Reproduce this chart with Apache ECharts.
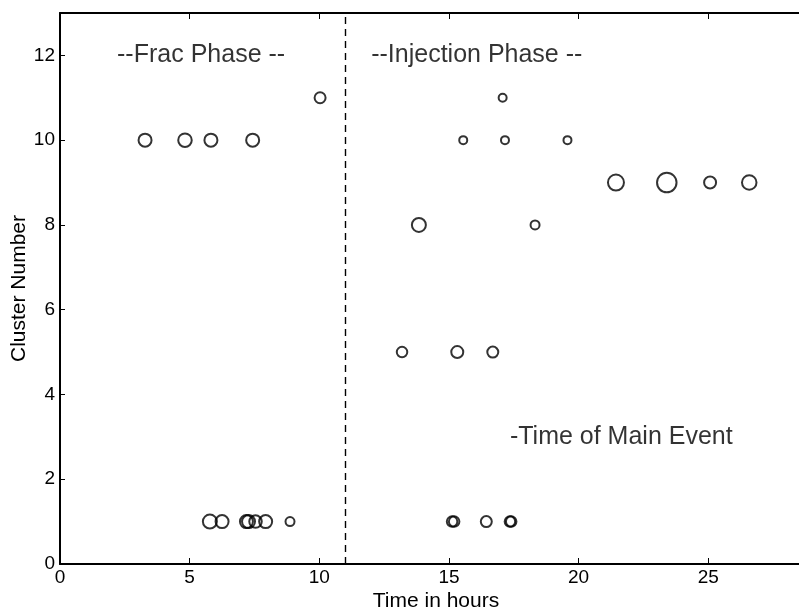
<!DOCTYPE html>
<html>
<head>
<meta charset="utf-8">
<script src="https://cdn.jsdelivr.net/npm/echarts@6/dist/echarts.min.js"></script>
<style>
html,body{margin:0;padding:0;background:#fff;}
#chart{width:799px;height:610px;}
</style>
</head>
<body>
<div id="chart"></div>
<script>
// ---- data ----
const xTicks = [0, 5, 10, 15, 20, 25];
const yTicks = [0, 2, 4, 6, 8, 10, 12];

// Frac phase events
const fracTime    = [3.28, 4.82, 5.82, 7.43, 10.03, 5.78, 6.25, 7.19, 7.27, 7.54, 7.93, 8.87];
const fracCluster = [10,   10,   10,   10,   11,    1,    1,    1,    1,    1,    1,    1];
const fracMag     = [1.5,  1.55, 1.5,  1.5,  1.3,   1.6,  1.5,  1.5,  1.5,  1.45, 1.5,  1.1];

// Injection phase events
const injTime    = [17.07, 15.55, 17.16, 19.57, 21.44, 23.40, 25.07, 26.58, 13.84, 18.32, 13.19, 15.32, 16.69, 15.12, 15.20, 16.44, 17.35, 17.40];
const injCluster = [11,    10,    10,    10,    9,     9,     9,     9,     8,     8,     5,     5,     5,     1,     1,     1,     1,     1];
const injMag     = [1.0,   1.0,   1.0,   1.0,   1.8,   2.15,  1.4,   1.65,  1.6,   1.1,   1.25,  1.4,   1.3,   1.25,  1.25,  1.3,   1.25,  1.25];

// annotations
const noteText    = ['--Frac Phase --', '--Injection Phase --', '-Time of Main Event'];
const noteTime    = [2.2, 12.0, 17.35];
const noteCluster = [12, 12, 3];

const phaseBoundary = 11;

// ---- chart ----
const pts = (t, c, m) => t.map((v, i) => [v, c[i], m[i]]);
const FONT = 'Liberation Sans, Arial, Helvetica, sans-serif';

const circleStyle = {
  color: 'rgba(0,0,0,0)',
  borderColor: '#000',
  borderWidth: 2
};

const chart = echarts.init(document.getElementById('chart'), null, {renderer: 'canvas'});
chart.setOption({
  animation: false,
  backgroundColor: '#fff',
  grid: {left: 60, top: 13, width: 752, height: 551, containLabel: false, outerBoundsMode: 'none'},
  xAxis: [{
    type: 'value', min: 0, max: 29, interval: 5,
    name: 'Time in hours', nameLocation: 'middle', nameGap: 27, nameMoveOverlap: false,
    nameTextStyle: {fontFamily: FONT, fontSize: 21, color: '#000'},
    axisLine: {show: true, onZero: false, lineStyle: {color: '#000', width: 2}},
    axisTick: {show: true, inside: true, length: 6, lineStyle: {color: '#000', width: 1}},
    axisLabel: {fontFamily: FONT, fontSize: 19, color: '#000', margin: 4,
      formatter: v => xTicks.includes(v) ? String(v) : ''},
    splitLine: {show: false}
  }, {
    type: 'value', min: 0, max: 29, interval: 5, position: 'top',
    axisLine: {show: true, onZero: false, lineStyle: {color: '#000', width: 2}},
    axisTick: {show: true, inside: true, length: 6, lineStyle: {color: '#000', width: 1}},
    axisLabel: {show: false},
    splitLine: {show: false}
  }],
  yAxis: [{
    type: 'value', min: 0, max: 13, interval: 2,
    name: 'Cluster Number', nameLocation: 'middle', nameGap: 30, nameMoveOverlap: false,
    nameTextStyle: {fontFamily: FONT, fontSize: 21, color: '#000'},
    axisLine: {show: true, onZero: false, lineStyle: {color: '#000', width: 2}},
    axisTick: {show: true, inside: true, length: 5, lineStyle: {color: '#000', width: 1}},
    axisLabel: {fontFamily: FONT, fontSize: 19, color: '#000', margin: 5,
      formatter: v => yTicks.includes(v) ? String(v) : ''},
    splitLine: {show: false}
  }],
  series: [{
    type: 'scatter', name: 'Frac',
    data: pts(fracTime, fracCluster, fracMag),
    symbol: 'circle',
    symbolSize: d => d[2] * 10 - 2,
    itemStyle: circleStyle,
    markLine: {
      silent: true, symbol: 'none', label: {show: false},
      lineStyle: {color: '#000', type: [7, 5], width: 1.4},
      data: [{xAxis: phaseBoundary}]
    }
  }, {
    type: 'scatter', name: 'Injection',
    data: pts(injTime, injCluster, injMag),
    symbol: 'circle',
    symbolSize: d => d[2] * 10 - 2,
    itemStyle: circleStyle
  }, {
    type: 'scatter', name: 'notes',
    data: noteTime.map((t, i) => ({value: [t, noteCluster[i]], label: {formatter: noteText[i]}})),
    symbolSize: 0,
    label: {show: true, position: 'right', distance: 0,
      fontFamily: FONT, fontSize: 25, color: '#000'}
  }]
});
</script>
</body>
</html>
